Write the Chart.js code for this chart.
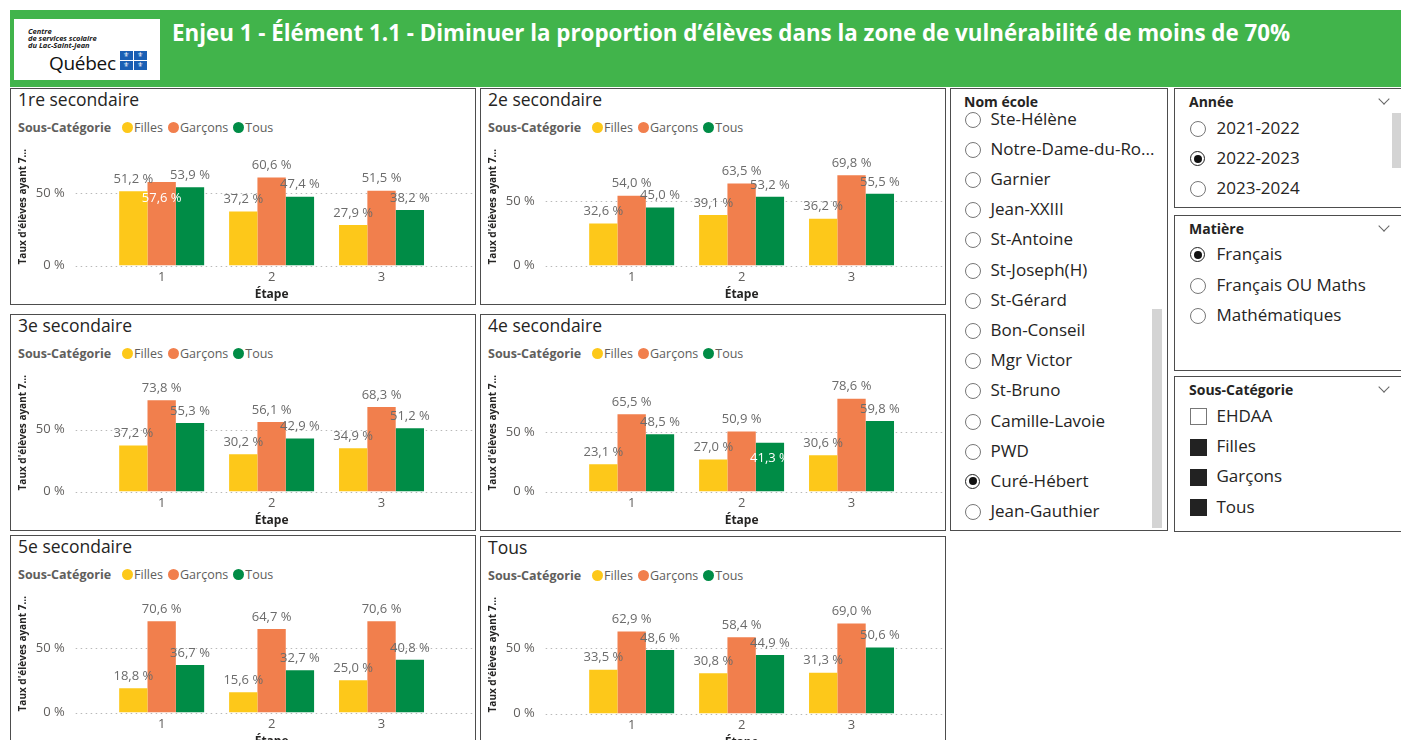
<!DOCTYPE html>
<html lang="fr">
<head>
<meta charset="utf-8">
<title>Enjeu 1 - Élément 1.1</title>
<script src="https://cdn.jsdelivr.net/npm/chart.js@4.4.1/dist/chart.umd.min.js"></script>
<style>
  body { margin: 0; width: 1401px; height: 740px; overflow: hidden; background: #fff;
         font-family: "Segoe UI", "Open Sans", sans-serif; position: relative; color: #252423; }
  .abs { position: absolute; }
  #banner { left: 10px; top: 10px; width: 1391px; height: 77px; background: #41b44b; }
  #logo { left: 14px; top: 19px; width: 146px; height: 61px; background: #fff; }
  #logo .small { position: absolute; left: 14px; font-size: 7.5px; font-weight: 700; font-style: italic; line-height: 7px; color: #222; }
  #logo .qc { position: absolute; left: 35px; top: 31px; font-size: 19px; color: #111; letter-spacing: -0.3px; }
  .flag { position: absolute; width: 12.5px; height: 8.5px; background: #1a5fb4; color: #fff;
          font: 7px "DejaVu Sans"; text-align: center; line-height: 8.5px; }
  #title { left: 172px; top: 17px; color: #fff; font-weight: 700; font-size: 20px; white-space: nowrap; }
  .panel { position: absolute; width: 466px; height: 217px; box-sizing: border-box; border: 1.5px solid #4d4d4d; background: #fff; }
  .ptitle { position: absolute; left: 7px; top: -2px; font-size: 17.5px; color: #252423; }
  .legend { position: absolute; left: 7px; top: 30px; font-size: 12.5px; color: #605e5c; white-space: nowrap; }
  .legend b { color: #605e5c; margin-right: 9px; }
  .legend .dot { display: inline-block; width: 11px; height: 11px; border-radius: 50%; vertical-align: -1px; margin: 0 1.5px 0 1.5px; }
  .legend .it { margin-right: 3px; }
  .panel canvas { position: absolute; left: 0.5px; top: 46.5px; }
  .slicer { position: absolute; box-sizing: border-box; border: 1.5px solid #4d4d4d; background: #fff; }
  .shead { position: absolute; font-size: 14px; font-weight: 700; color: #252423; }
  .item { position: absolute; font-size: 17px; color: #252423; white-space: nowrap; line-height: 22px; }
  .radio { position: absolute; width: 14px; height: 14px; border: 1px solid #777; border-radius: 50%; box-sizing: content-box; }
  .radio.on { border: 1.5px solid #222; width: 13px; height: 13px; }
  .radio.on::after { content: ""; position: absolute; left: 2.5px; top: 2.5px; width: 8px; height: 8px; border-radius: 50%; background: #111; }
  .check { position: absolute; width: 15px; height: 15px; border: 1px solid #777; }
  .check.on { background: #222; border-color: #222; }
  .chev { position: absolute; width: 7px; height: 7px; border-right: 1.3px solid #666; border-bottom: 1.3px solid #666; transform: rotate(45deg); }
  .scroll { position: absolute; background: #d4d4d4; }
</style>
</head>
<body>

<div id="banner" class="abs"></div>
<div id="logo" class="abs">
  <div class="small" style="top:9px">Centre</div>
  <div class="small" style="top:16px">de services scolaire</div>
  <div class="small" style="top:23px">du Lac-Saint-Jean</div>
  <div class="qc">Québec</div>
  <div class="flag" style="left:106px;top:32px">⚜</div>
  <div class="flag" style="left:120px;top:32px">⚜</div>
  <div class="flag" style="left:106px;top:42px">⚜</div>
  <div class="flag" style="left:120px;top:42px">⚜</div>
</div>
<div id="title" class="abs">Enjeu 1 - Élément 1.1 - Diminuer la proportion d’élèves dans la zone de vulnérabilité de moins de 70%</div>

<div id="panels"></div>
<div id="slicers"></div>

<script>
const niveaux = ['1re secondaire', '2e secondaire', '3e secondaire', '4e secondaire', '5e secondaire', 'Tous'];
const etapes = ['1', '2', '3'];
const sousCategories = ['Filles', 'Garçons', 'Tous'];

// one row per panel, one value per étape
const filles  = [[51.2, 37.2, 27.9], [32.6, 39.1, 36.2], [37.2, 30.2, 34.9], [23.1, 27.0, 30.6], [18.8, 15.6, 25.0], [33.5, 30.8, 31.3]];
const garcons = [[57.6, 60.6, 51.5], [54.0, 63.5, 69.8], [73.8, 56.1, 68.3], [65.5, 50.9, 78.6], [70.6, 64.7, 70.6], [62.9, 58.4, 69.0]];
const tous    = [[53.9, 47.4, 38.2], [45.0, 53.2, 55.5], [55.3, 42.9, 51.2], [48.5, 41.3, 59.8], [36.7, 32.7, 40.8], [48.6, 44.9, 50.6]];

const yTicks = [0, 50];
const yMax = [81, 91, 95, 99.5, 91, 90];

// labels Power BI pushed inside the bar (panel-dataset-index)
const insideLabels = ['0-1-0', '3-2-1'];

const ecoles = ['Ste-Hélène', 'Notre-Dame-du-Ro...', 'Garnier', 'Jean-XXIII', 'St-Antoine', 'St-Joseph(H)', 'St-Gérard',
  'Bon-Conseil', 'Mgr Victor', 'St-Bruno', 'Camille-Lavoie', 'PWD', 'Curé-Hébert', 'Jean-Gauthier'];
const annees = ['2021-2022', '2022-2023', '2023-2024'];
const matieres = ['Français', 'Français OU Maths', 'Mathématiques'];
const sousCatSlicer = ['EHDAA', 'Filles', 'Garçons', 'Tous'];

// --- look ---
const colors = ['#fdc81a', '#f17f4d', '#008c46'];
const panelPos = [[10, 88], [480, 88], [10, 314], [480, 314], [10, 535], [480, 536]];
const series = [filles, garcons, tous];
const FONT = '"Segoe UI", "Open Sans", sans-serif';

// dotted horizontal grid that runs past the plot like in Power BI
const dotGrid = {
  id: 'dotGrid',
  beforeDatasetsDraw(chart) {
    const {ctx, chartArea, scales: {y}} = chart;
    ctx.save();
    ctx.strokeStyle = '#b9b9b9';
    ctx.lineWidth = 1;
    ctx.setLineDash([1.5, 3.5]);
    y.ticks.forEach(t => {
      const py = Math.round(y.getPixelForValue(t.value)) + 0.5;
      ctx.beginPath();
      ctx.moveTo(chartArea.left - 31, py);
      ctx.lineTo(chartArea.right + 37, py);
      ctx.stroke();
    });
    ctx.restore();
  }
};

// value labels on top of the bars
const valueLabels = {
  id: 'valueLabels',
  afterDatasetsDraw(chart, args, opts) {
    const {ctx} = chart;
    ctx.save();
    ctx.font = '13px ' + FONT;
    ctx.textAlign = 'center';
    ctx.textBaseline = 'middle';
    chart.data.datasets.forEach((ds, d) => {
      chart.getDatasetMeta(d).data.forEach((bar, i) => {
        const txt = ds.data[i].toFixed(1).replace('.', ',') + ' %';
        if (insideLabels.includes(opts.panel + '-' + d + '-' + i)) {
          ctx.fillStyle = '#ffffff';
          ctx.fillText(txt, bar.x, bar.y + 16);
        } else {
          ctx.fillStyle = '#6b6b6b';
          ctx.fillText(txt, bar.x, bar.y - 12);
        }
      });
    });
    ctx.restore();
  }
};

const panelsDiv = document.getElementById('panels');
niveaux.forEach((niv, p) => {
  const panel = document.createElement('div');
  panel.className = 'panel';
  panel.style.left = panelPos[p][0] + 'px';
  panel.style.top = panelPos[p][1] + 'px';
  let legend = '<b>Sous-Catégorie</b>';
  sousCategories.forEach((s, k) => {
    legend += '<span class="dot" style="background:' + colors[k] + '"></span><span class="it">' + s + '</span>';
  });
  panel.innerHTML = '<div class="ptitle">' + niv + '</div><div class="legend">' + legend + '</div>' +
    '<canvas id="c' + p + '" width="462" height="168"></canvas>';
  panelsDiv.appendChild(panel);

  new Chart(document.getElementById('c' + p), {
    type: 'bar',
    data: {
      labels: etapes,
      datasets: sousCategories.map((s, k) => ({
        label: s,
        data: series[k][p],
        backgroundColor: colors[k],
        borderWidth: 0,
        categoryPercentage: 0.773,
        barPercentage: 1
      }))
    },
    options: {
      responsive: false,
      animation: false,
      devicePixelRatio: 1,
      layout: { padding: { top: 12, right: 37.5, left: 0, bottom: 0 } },
      plugins: {
        legend: { display: false },
        tooltip: { enabled: false },
        valueLabels: { panel: p }
      },
      scales: {
        x: {
          grid: { display: false, drawTicks: false },
          border: { display: false },
          ticks: { color: '#605e5c', font: { size: 13, family: FONT }, padding: 4 },
          title: { display: true, text: 'Étape', color: '#252423',
                   font: { size: 12, weight: 'bold', family: FONT },
                   padding: { top: 0, bottom: 2 } },
          afterFit: s => { s.height = 38.5; s.paddingLeft = 0; s.paddingRight = 0; }
        },
        y: {
          min: 0,
          max: yMax[p],
          grid: { display: false, drawTicks: false },
          border: { display: false },
          afterBuildTicks: s => { s.ticks = yTicks.map(v => ({ value: v })); },
          ticks: { color: '#605e5c', font: { size: 13, family: FONT },
                   padding: 42, callback: v => v + ' %' },
          title: { display: true, text: 'Taux d\'élèves ayant 7…', color: '#252423',
                   font: { size: 10, weight: 'bold', family: FONT },
                   padding: { top: 4.7, bottom: 0 } },
          afterFit: s => { s.width = 94.7; s.paddingTop = 0; s.paddingBottom = 0; }
        }
      }
    },
    plugins: [dotGrid, valueLabels]
  });
});

// --- slicers on the right ---
const sl = document.getElementById('slicers');
function box(l, t, w, h) {
  const b = document.createElement('div');
  b.className = 'slicer';
  Object.assign(b.style, { left: l + 'px', top: t + 'px', width: w + 'px', height: h + 'px' });
  sl.appendChild(b);
  return b;
}
function add(parent, cls, l, t, html, extra) {
  const e = document.createElement('div');
  e.className = cls;
  e.style.left = l + 'px';
  e.style.top = t + 'px';
  if (html) e.textContent = html;
  if (extra) Object.assign(e.style, extra);
  parent.appendChild(e);
  return e;
}

const bEcole = box(950, 88, 218, 443);
add(bEcole, 'shead', 13, 3, 'Nom école');
ecoles.forEach((e, i) => {
  const cy = 30.5 + i * 30.2;
  add(bEcole, 'radio' + (e === 'Curé-Hébert' ? ' on' : ''), 14, cy - 8);
  add(bEcole, 'item', 39.5, cy - 12, e);
});
add(bEcole, 'scroll', 200.5, 219.5, '', { width: '10px', height: '219px' });

const bAnnee = box(1174, 88, 240, 120);
add(bAnnee, 'shead', 14, 3, 'Année');
add(bAnnee, 'chev', 205, 6);
annees.forEach((a, i) => {
  const cy = 39.8 + i * 30.3;
  add(bAnnee, 'radio' + (a === '2022-2023' ? ' on' : ''), 15, cy - 8);
  add(bAnnee, 'item', 41.5, cy - 12, a);
});
add(bAnnee, 'scroll', 216.5, 23.5, '', { width: '10px', height: '55px' });

const bMat = box(1174, 215, 240, 156);
add(bMat, 'shead', 14, 3, 'Matière');
add(bMat, 'chev', 205, 6);
matieres.forEach((m, i) => {
  const cy = 39.2 + i * 30.3;
  add(bMat, 'radio' + (m === 'Français' ? ' on' : ''), 15, cy - 8);
  add(bMat, 'item', 41.5, cy - 12, m);
});

const bSous = box(1174, 376, 240, 156);
add(bSous, 'shead', 14, 3, 'Sous-Catégorie');
add(bSous, 'chev', 205, 6);
sousCatSlicer.forEach((s, i) => {
  const cy = 39.8 + i * 30.3;
  add(bSous, 'check' + (s === 'EHDAA' ? '' : ' on'), 15, cy - 8.5);
  add(bSous, 'item', 41.5, cy - 12, s);
});

// fit the banner title to the width it has in the report
const t = document.getElementById('title');
t.style.fontSize = (20 * 1118 / t.offsetWidth).toFixed(2) + 'px';
</script>
</body>
</html>
